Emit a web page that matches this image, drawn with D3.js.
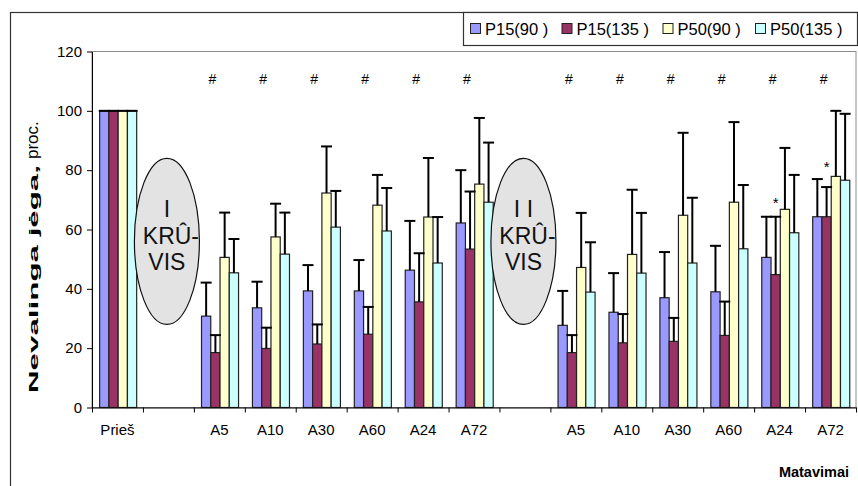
<!DOCTYPE html>
<html>
<head>
<meta charset="utf-8">
<script src="https://cdn.jsdelivr.net/npm/d3@7"></script>
<style>
  body { margin: 0; background: #fff; }
  text { font-family: "Liberation Sans", Arial, sans-serif; }
</style>
</head>
<body>
<div id="container"></div>
<script>
// categories on the x axis ("" = empty slot where the ellipse sits)
const categories = ["Prieš", "", "A5", "A10", "A30", "A60", "A24", "A72", "", "A5", "A10", "A30", "A60", "A24", "A72"];
const seriesNames = ["P15(90 )", "P15(135 )", "P50(90 )", "P50(135 )"];
const seriesColors = ["#9999ff", "#993366", "#ffffcc", "#ccffff"];

// means
const p15_90 = [100, null, 30.8, 33.6, 39.3, 39.3, 46.3, 62.2, null, 27.7, 32.1, 37.0, 39.0, 50.6, 64.3];
const p15_135 = [100, null, 18.5, 19.9, 21.4, 24.7, 35.6, 53.4, null, 18.5, 21.8, 22.3, 24.3, 44.8, 64.3];
const p50_90 = [100, null, 50.6, 57.5, 72.3, 68.2, 64.2, 75.3, null, 47.2, 51.6, 64.8, 69.2, 66.8, 77.9];
const p50_135 = [100, null, 45.4, 51.7, 60.8, 59.5, 48.7, 69.2, null, 38.9, 45.3, 48.7, 53.5, 58.9, 76.6];

// error (+) amounts
const p15_90_err = [0, null, 11.3, 8.8, 8.7, 10.4, 16.6, 17.8, null, 11.6, 13.2, 15.4, 15.5, 13.7, 12.7];
const p15_135_err = [0, null, 5.9, 7.0, 6.6, 9.2, 16.4, 19.4, null, 5.9, 9.7, 7.9, 11.4, 19.5, 10.0];
const p50_90_err = [0, null, 15.1, 11.2, 15.7, 10.2, 19.9, 22.3, null, 18.4, 21.8, 27.8, 27.0, 20.7, 22.1];
const p50_135_err = [0, null, 11.4, 14.0, 12.2, 14.5, 15.5, 20.1, null, 16.8, 20.3, 22.0, 21.5, 19.5, 22.4];

const yTicks = [0, 20, 40, 60, 80, 100, 120];

// annotations
const hashCats = [2, 3, 4, 5, 6, 7, 9, 10, 11, 12, 13, 14];
const hashLevel = 110.7;
const starCats = [13, 14];
const starLevels = [70, 82];
const loadCats = [1, 8];
const loadLabels = [["I", "KRÛ-", "VIS"], ["I I", "KRÛ-", "VIS"]];

const means = [p15_90, p15_135, p50_90, p50_135];
const errs = [p15_90_err, p15_135_err, p50_90_err, p50_135_err];

const W = 858, H = 486;
const plot = { left: 92, right: 856, top: 51.5, bottom: 407.5 };

const svg = d3.select("#container").append("svg")
  .attr("width", W)
  .attr("height", H);

const x = d3.scaleBand()
  .domain(d3.range(categories.length))
  .range([plot.left, plot.right])
  .padding(0);

const xs = d3.scaleBand()
  .domain(d3.range(seriesNames.length))
  .range([0, x.bandwidth()])
  .paddingInner(0)
  .paddingOuter(0.75)
  .align(0.55);

const y = d3.scaleLinear()
  .domain([0, 120])
  .range([plot.bottom, plot.top]);

// outer chart frame
svg.append("rect")
  .attr("x", 10.5)
  .attr("y", 12.5)
  .attr("width", W)
  .attr("height", H)
  .attr("fill", "none")
  .attr("stroke", "#333")
  .attr("stroke-width", 1.2);

// plot area border
svg.append("rect")
  .attr("x", plot.left)
  .attr("y", plot.top)
  .attr("width", plot.right - plot.left)
  .attr("height", plot.bottom - plot.top)
  .attr("fill", "none")
  .attr("stroke", "#8c8c8c")
  .attr("stroke-width", 1);

// bars
const bars = [];
means.forEach((arr, s) => {
  arr.forEach((v, i) => {
    if (v === null) return;
    bars.push({ s: s, i: i, v: v, e: errs[s][i] });
  });
});

svg.append("g").selectAll("rect")
  .data(bars)
  .join("rect")
  .attr("x", d => x(d.i) + xs(d.s))
  .attr("y", d => y(d.v))
  .attr("width", xs.bandwidth())
  .attr("height", d => y(0) - y(d.v))
  .attr("fill", d => seriesColors[d.s])
  .attr("stroke", "#222")
  .attr("stroke-width", 1.2);

// error bars (plus side only)
const eg = svg.append("g")
  .attr("stroke", "#000")
  .attr("stroke-width", 2);
bars.forEach(d => {
  const cx = x(d.i) + xs(d.s) + xs.bandwidth() / 2;
  if (d.e > 0) {
    eg.append("line")
      .attr("x1", cx).attr("x2", cx)
      .attr("y1", y(d.v)).attr("y2", y(d.v + d.e));
  }
  eg.append("line")
    .attr("x1", cx - 5.5).attr("x2", cx + 5.5)
    .attr("y1", y(d.v + d.e)).attr("y2", y(d.v + d.e));
});

// y axis
const yAxis = svg.append("g")
  .attr("transform", `translate(${plot.left},0)`)
  .call(d3.axisLeft(y).tickValues(yTicks).tickSize(5).tickSizeOuter(0).tickPadding(5));
yAxis.select(".domain").attr("stroke", "#000");
yAxis.selectAll(".tick line").attr("stroke", "#000");
yAxis.selectAll("text")
  .attr("font-size", 15)
  .attr("font-family", "Liberation Sans, Arial, sans-serif")
  .attr("fill", "#000");

// x axis: ticks between categories, labels in the middle
const xb = d3.scaleLinear().domain([0, categories.length]).range([plot.left, plot.right]);
const xTickAxis = svg.append("g")
  .attr("transform", `translate(0,${plot.bottom})`)
  .call(d3.axisBottom(xb).tickValues(d3.range(categories.length + 1)).tickSize(5).tickSizeOuter(0).tickFormat(""));
xTickAxis.select(".domain").attr("stroke", "#000");
xTickAxis.selectAll(".tick line").attr("stroke", "#000");

const xLabelAxis = svg.append("g")
  .attr("transform", `translate(0,${plot.bottom})`)
  .call(d3.axisBottom(x).tickSize(0).tickPadding(17).tickFormat(i => categories[i]));
xLabelAxis.select(".domain").remove();
xLabelAxis.selectAll("text")
  .attr("font-size", 15)
  .attr("font-family", "Liberation Sans, Arial, sans-serif")
  .attr("fill", "#000");

// "#" marks above the groups
svg.append("g").selectAll("text")
  .data(hashCats)
  .join("text")
  .attr("x", d => x(d) + x.bandwidth() / 2 - 7)
  .attr("y", y(hashLevel) + 5)
  .attr("text-anchor", "middle")
  .attr("font-size", 14)
  .text("#");

// "*" marks above P15(135)
svg.append("g").selectAll("text")
  .data(starCats)
  .join("text")
  .attr("x", d => x(d) + xs(1) + xs.bandwidth() / 2)
  .attr("y", (d, k) => y(starLevels[k]) + 8)
  .attr("text-anchor", "middle")
  .attr("font-size", 15)
  .text("*");

// load ellipses
const ell = svg.append("g").selectAll("g")
  .data(loadCats)
  .join("g")
  .attr("transform", d => `translate(${x(d) + x.bandwidth() / 2 - 1.5},${y(56)})`);
ell.append("ellipse")
  .attr("rx", 32.5)
  .attr("ry", y(28) - y(56))
  .attr("fill", "#e3e3e3")
  .attr("stroke", "#111")
  .attr("stroke-width", 1.2);
ell.each(function (d, k) {
  const g = d3.select(this);
  loadLabels[k].forEach((t, j) => {
    g.append("text")
      .attr("x", j === 1 ? 4 : 0)
      .attr("y", -24 + j * 26.5)
      .attr("text-anchor", "middle")
      .attr("font-size", 23)
      .attr("fill", "#111")
      .text(t);
  });
});

// y axis title (stretched along the axis like the original)
svg.append("text")
  .attr("transform", "translate(38,393) rotate(-90)")
  .attr("font-size", 13)
  .attr("font-weight", "bold")
  .attr("textLength", 228)
  .attr("lengthAdjust", "spacingAndGlyphs")
  .text("Nevalinga jėga,");
svg.append("text")
  .attr("transform", "translate(38,159) rotate(-90)")
  .attr("font-size", 17)
  .text("proc.");

// x axis title
svg.append("text")
  .attr("x", 849)
  .attr("y", 477)
  .attr("text-anchor", "end")
  .attr("font-size", 14.5)
  .attr("font-weight", "bold")
  .text("Matavimai");

// legend
const lg = svg.append("g");
lg.append("rect")
  .attr("x", 463.5)
  .attr("y", 12.5)
  .attr("width", 394)
  .attr("height", 33)
  .attr("fill", "#fff")
  .attr("stroke", "#333")
  .attr("stroke-width", 1.2);
const legendX = [470, 561.5, 662.5, 755];
seriesNames.forEach((n, s) => {
  lg.append("rect")
    .attr("x", legendX[s] + 0.5)
    .attr("y", 23.5)
    .attr("width", 10)
    .attr("height", 10)
    .attr("fill", seriesColors[s])
    .attr("stroke", "#222");
  lg.append("text")
    .attr("x", legendX[s] + 15)
    .attr("y", 35)
    .attr("font-size", 16.5)
    .text(n);
});
</script>
</body>
</html>
